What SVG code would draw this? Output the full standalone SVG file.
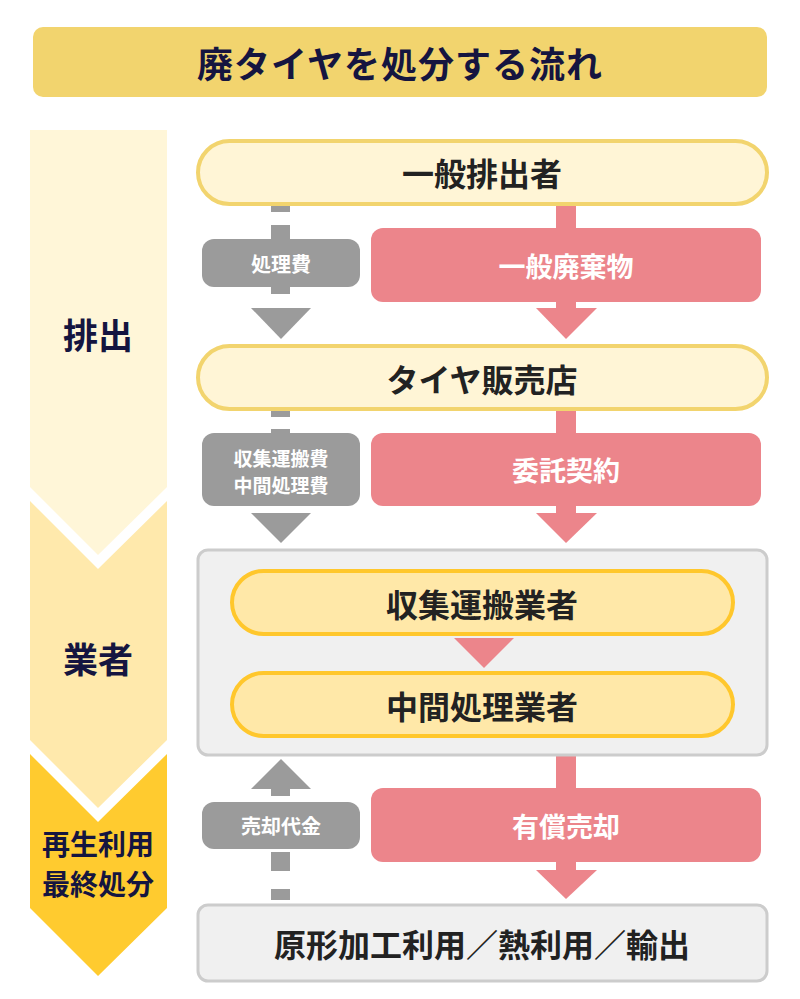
<svg xmlns="http://www.w3.org/2000/svg" width="800" height="999" viewBox="0 0 800 999">
<style>
text{font-family:"Noto Sans CJK JP","Noto Sans CJK SC",sans-serif;font-weight:700;text-anchor:middle;dominant-baseline:central}
.navy{fill:#151540}
.dark{fill:#222222}
.white{fill:#ffffff}
.pill1{fill:#FFF5D6;stroke:#F2D46E;stroke-width:4}
.pill2{fill:#FFE8A8;stroke:#FFC72C;stroke-width:4}
.frame{fill:#F0F0F0;stroke:#CCCCCC;stroke-width:3}
.gray{fill:#9B9B9B}
.pink{fill:#EC858B}
</style>
<rect width="800" height="999" fill="#ffffff"/>
<g id="title">
<rect x="33" y="27" width="734" height="70" rx="10" fill="#F2D46E"/>
<text x="400" y="62" class="navy" font-size="36" letter-spacing="1">廃タイヤを処分する流れ</text>
</g>
<g id="stage-haishutsu">
<polygon points="30,130 167,130 167,487 98,555 30,487" fill="#FFF6D8"/>
<text x="98" y="333" class="navy" font-size="35">排出</text>
</g>
<g id="stage-gyousha">
<polygon points="30,501 98,569 167,501 167,740 98,808 30,740" fill="#FFE9AC"/>
<text x="98" y="657" class="navy" font-size="35">業者</text>
</g>
<g id="stage-saisei">
<polygon points="30,754 98,822 167,754 167,908 98,976 30,908" fill="#FFCB2F"/>
<text x="98" y="843" class="navy" font-size="28">再生利用</text>
<text x="98" y="883" class="navy" font-size="28">最終処分</text>
</g>
<g id="connectors">
<rect x="271" y="204" width="19" height="8" class="gray"/>
<rect x="271" y="225" width="19" height="14" class="gray"/>
<rect x="202" y="239" width="158" height="48" rx="12" class="gray"/>
<text x="281" y="263" class="white" font-size="20">処理費</text>
<rect x="271" y="287" width="19" height="7" class="gray"/>
<polygon points="251,308 311,308 281,339" class="gray"/>
<rect x="556" y="204" width="20" height="104" class="pink"/>
<rect x="371" y="228" width="390" height="74" rx="12" class="pink"/>
<text x="566" y="265" class="white" font-size="27">一般廃棄物</text>
<polygon points="536,308 597,308 566,339" class="pink"/>
<rect x="271" y="410" width="19" height="7" class="gray"/>
<rect x="271" y="429" width="19" height="8" class="gray"/>
<rect x="202" y="433" width="158" height="73" rx="12" class="gray"/>
<text x="281" y="457" class="white" font-size="19">収集運搬費</text>
<text x="281" y="484" class="white" font-size="19">中間処理費</text>
<polygon points="251,513 311,513 281,543" class="gray"/>
<rect x="556" y="408" width="20" height="105" class="pink"/>
<rect x="371" y="433" width="390" height="73" rx="12" class="pink"/>
<text x="566" y="469" class="white" font-size="27">委託契約</text>
<polygon points="536,513 597,513 566,543" class="pink"/>
<polygon points="251,789 311,789 281,759" class="gray"/>
<rect x="271" y="789" width="19" height="7" class="gray"/>
<rect x="202" y="802" width="158" height="47" rx="12" class="gray"/>
<text x="281" y="825" class="white" font-size="20">売却代金</text>
<rect x="271" y="852" width="19" height="19" class="gray"/>
<rect x="271" y="889" width="19" height="11" class="gray"/>
<rect x="556" y="755" width="20" height="115" class="pink"/>
<rect x="371" y="788" width="390" height="74" rx="12" class="pink"/>
<text x="566" y="825" class="white" font-size="27">有償売却</text>
<polygon points="536,870 597,870 566,899" class="pink"/>
</g>
<g id="node-ippan-haishutsusha">
<rect x="198" y="141" width="569" height="63" rx="31.5" class="pill1"/>
<text x="482" y="172" class="dark" font-size="32">一般排出者</text>
</g>
<g id="node-tire-hanbaiten">
<rect x="198" y="346" width="569" height="63" rx="31.5" class="pill1"/>
<text x="482" y="378" class="dark" font-size="32">タイヤ販売店</text>
</g>
<g id="node-gyousha-group">
<rect x="198" y="550" width="569" height="205" rx="10" class="frame"/>
</g>
<g id="node-shushu-unpan">
<rect x="232" y="571" width="501" height="63" rx="31.5" class="pill2"/>
<text x="482" y="603" class="dark" font-size="32">収集運搬業者</text>
</g>
<polygon id="conn-inner" points="454,638 514,638 484,668" class="pink"/>
<g id="node-chukan-shori">
<rect x="232" y="673" width="501" height="63" rx="31.5" class="pill2"/>
<text x="482" y="705" class="dark" font-size="32">中間処理業者</text>
</g>
<g id="node-final">
<rect x="198" y="905" width="569" height="76" rx="10" class="frame"/>
<text x="482" y="943" class="dark" font-size="32">原形加工利用／熱利用／輸出</text>
</g>
</svg>
